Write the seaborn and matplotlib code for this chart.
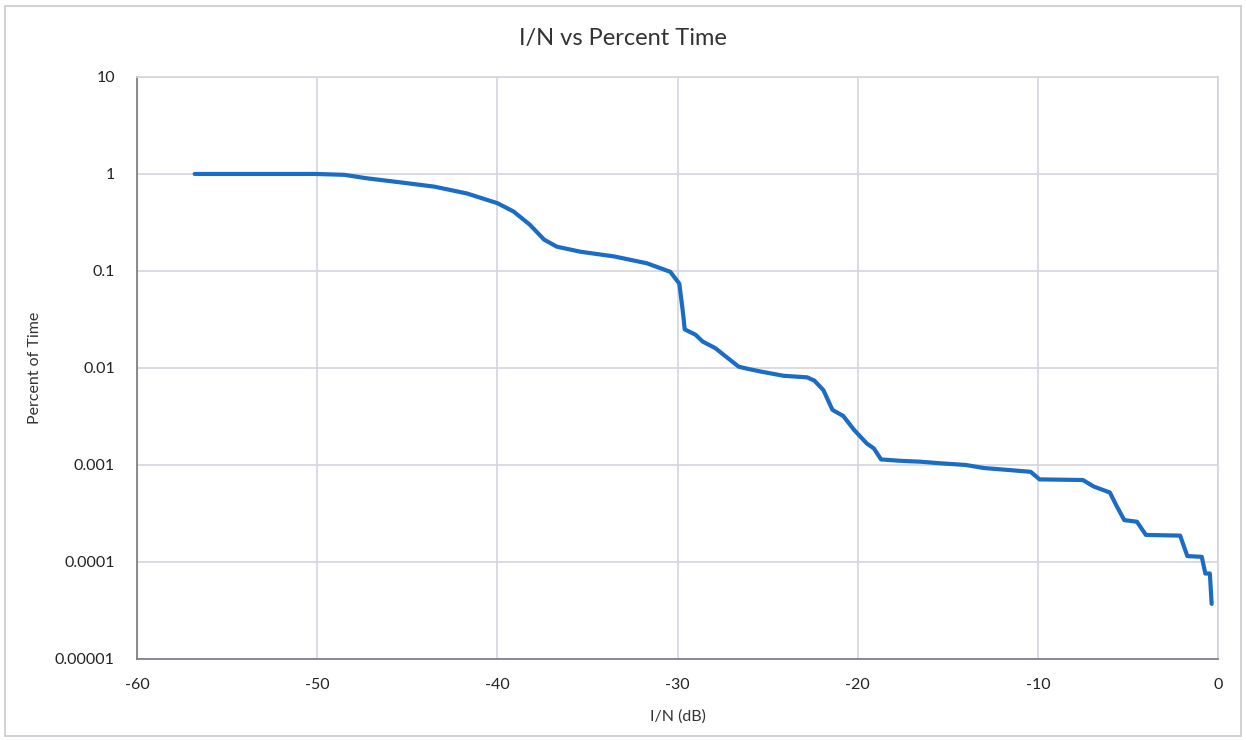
import numpy as np
import pandas as pd
import seaborn as sns
import matplotlib.pyplot as plt
from matplotlib.patches import Rectangle
from matplotlib.ticker import FixedLocator, FixedFormatter, NullLocator

# I/N (dB) and percent of time
i_over_n = [-56.8, -50.1, -48.5, -47.2, -45.4, -43.5, -41.7, -40.0, -39.1,
            -38.2, -37.4, -36.7, -35.4, -33.5, -31.7, -30.4, -29.9, -29.7,
            -29.7, -29.6, -29.0, -28.6, -27.9, -27.2, -26.6, -26.1, -25.4,
            -24.1, -22.8, -22.4, -21.9, -21.4, -20.8, -20.2, -19.5, -19.1,
            -18.7, -17.5, -16.5, -15.4, -14.0, -13.0, -11.7, -10.4, -9.9,
            -7.5, -6.9, -6.0, -5.6, -5.2, -4.5, -4.0, -2.1, -1.7, -0.9,
            -0.7, -0.45, -0.35]
percent_time = [1.0, 1.0, 0.98, 0.90, 0.82, 0.74, 0.63, 0.50, 0.41,
                0.30, 0.21, 0.178, 0.158, 0.141, 0.12, 0.098, 0.074, 0.050,
                0.025, 0.025, 0.022, 0.0187, 0.016, 0.0126, 0.0103, 0.0098, 0.0092,
                0.0083, 0.0080, 0.0074, 0.0059, 0.0037, 0.0032, 0.0023, 0.00167, 0.00148,
                0.00114, 0.00110, 0.00108, 0.00104, 0.0010, 0.00093, 0.00089, 0.00085, 0.00071,
                0.00070, 0.00060, 0.00052, 0.00037, 0.00027, 0.00026, 0.00019, 0.000187, 0.000115, 0.000113,
                0.000076, 0.000076, 0.000037]

y_ticks = [0.00001, 0.0001, 0.001, 0.01, 0.1, 1, 10]
y_tick_labels = ["0.00001", "0.0001", "0.001", "0.01", "0.1", "1", "10"]
x_ticks = [-60, -50, -40, -30, -20, -10, 0]

df = pd.DataFrame({"I/N (dB)": i_over_n, "Percent of Time": percent_time})

sns.set_style("whitegrid")
plt.rcParams['font.family'] = ['Lato', 'DejaVu Sans']
plt.rcParams['axes.unicode_minus'] = False

fig = plt.figure(figsize=(12.46, 7.40), dpi=100)
ax = fig.add_axes([0.110, 0.1095, 0.8675, 0.7865])

sns.lineplot(data=df, x="I/N (dB)", y="Percent of Time", ax=ax,
             color="#1a6cc4", linewidth=3.0, sort=False)

ax.set_yscale("log")
ax.set_xlim(-60, 0)
ax.set_ylim(0.00001, 10)
ax.yaxis.set_major_locator(FixedLocator(y_ticks))
ax.yaxis.set_major_formatter(FixedFormatter(y_tick_labels))
ax.yaxis.set_minor_locator(NullLocator())
ax.set_xticks(x_ticks)

grid_col = "#d3d4de"
ax.grid(True, color=grid_col, linewidth=1.2)
for side in ["top", "right"]:
    ax.spines[side].set_color(grid_col)
    ax.spines[side].set_linewidth(1.2)
for side in ["left", "bottom"]:
    ax.spines[side].set_color("#77787f")
    ax.spines[side].set_linewidth(1.2)

ax.tick_params(axis="x", labelsize=11.5, colors="#222222", length=0, pad=14)
ax.tick_params(axis="y", labelsize=11.5, colors="#222222", length=0, pad=16)
ax.set_xlabel("I/N (dB)", fontsize=11.5, color="#333333", labelpad=12)
ax.set_ylabel("Percent of Time", fontsize=11.5, color="#333333", labelpad=9)
fig.text(0.5, 0.948, "I/N vs Percent Time", fontsize=17, color="#333333",
         ha="center", va="center")

fig.patches.append(Rectangle((0.004, 0.006), 0.992, 0.986, transform=fig.transFigure,
                             fill=False, edgecolor="#c8c8d0", linewidth=1.2))

fig.savefig("out.png", dpi=100)
